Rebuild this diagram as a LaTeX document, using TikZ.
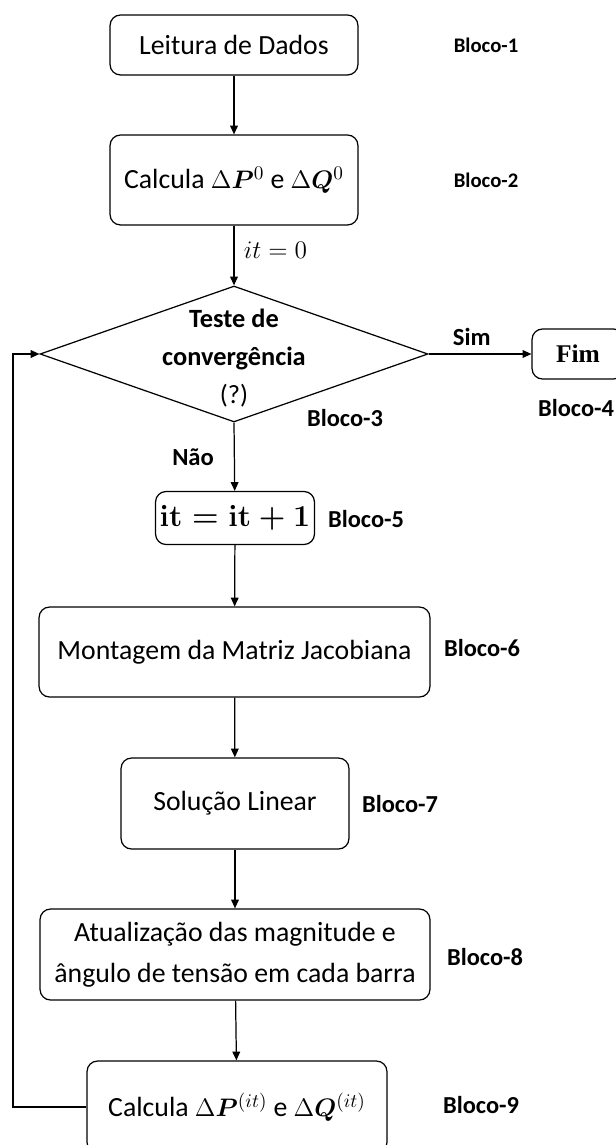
\documentclass[tikz,border=0pt]{standalone}
\usepackage{amsmath,bm}
\usepackage{fontspec}
\setmainfont{Carlito}
\newfontfamily\serifbf{Liberation Serif}
\usetikzlibrary{arrows.meta,shapes.geometric,positioning}

\begin{document}
\begin{tikzpicture}[
    x=0.02cm, y=-0.02cm,
    box/.style={draw, rounded corners=6pt, line width=0.7pt, inner sep=0pt, align=center, font=\fontsize{15.8}{23.2}\selectfont},
    decisao/.style={draw, diamond, line width=0.7pt, inner sep=0pt, minimum width=7.76cm, minimum height=2.72cm},
    bloco/.style={font=\bfseries\fontsize{13.9}{16}\selectfont},
    rot/.style={font=\bfseries\fontsize{14}{16}\selectfont},
    arr/.style={-{Triangle[length=5pt,width=4.4pt]}, line width=0.7pt}
]
\useasboundingbox (0,0) rectangle (615,1145);

\node[box, minimum width=4.96cm, minimum height=1.2cm] (leitura) at (234,45) {Leitura de Dados};
\node[box, minimum width=4.96cm, minimum height=1.8cm] (calc0) at (234,180) {Calcula $\Delta\bm{P}^{0}$ e $\Delta\bm{Q}^{0}$};
\node[decisao] (teste) at (234,354) {};
\node[align=center, font=\fontsize{15}{21.8}\selectfont] (testetxt) at (234,358) {\textbf{Teste de}\\\textbf{convergência}\\(?)};
\node[box, minimum width=1.84cm, minimum height=1cm, font=\serifbf\bfseries\fontsize{14.5}{16}\selectfont] (fim) at (578,354) {Fim};
\node[box, minimum width=3.18cm, minimum height=1.06cm, font=\boldmath\fontsize{16}{18}\selectfont] (incr) at (235,518) {$\mathbf{it}=\mathbf{it}+\mathbf{1}$};
\node[box, minimum width=7.82cm, minimum height=1.8cm] (jacob) at (234.5,652) {Montagem da Matriz Jacobiana};
\node[box, minimum width=4.56cm, minimum height=1.82cm] (solucao) at (235,803.5) {Solução Linear};
\node[box, minimum width=7.8cm, minimum height=1.82cm] (atualiza) at (235,954.5) {Atualização das magnitude e\\ângulo de tensão em cada barra};
\node[box, minimum width=6cm, minimum height=1.84cm] (calcit) at (237,1107) {Calcula $\Delta\bm{P}^{(it)}$ e $\Delta\bm{Q}^{(it)}$};

\node[bloco, font=\bfseries\fontsize{11.8}{14}\selectfont] (b1) at (486,45) {Bloco-1};
\node[bloco, font=\bfseries\fontsize{11.8}{14}\selectfont] (b2) at (486,180) {Bloco-2};
\node[bloco] (b3) at (345,418) {Bloco-3};
\node[bloco] (b4) at (576,408) {Bloco-4};
\node[bloco] (b5) at (366,519) {Bloco-5};
\node[bloco] (b6) at (482,648) {Bloco-6};
\node[bloco] (b7) at (400,804) {Bloco-7};
\node[bloco] (b8) at (485,957) {Bloco-8};
\node[bloco] (b9) at (481,1105) {Bloco-9};

\coordinate (retorno) at (13,1107);

\draw[arr] (leitura) -- (calc0);
\draw[arr] (calc0) -- node[pos=0.41, right=2pt, font=\fontsize{15}{18}\selectfont] {$it=0$} (teste);
\draw[arr] (teste.east) -- node[pos=0.42, above=1.2pt, rot] {Sim} (fim);
\draw[arr] (teste.south) -- node[pos=0.51, left=8pt, rot] {Não} (incr);
\draw[arr] (incr) -- (jacob);
\draw[arr] (jacob) -- (solucao);
\draw[arr] (solucao) -- (atualiza);
\draw[arr] (atualiza) -- (calcit);
\draw[arr] (calcit.west) -- (retorno) |- (teste.west);
\end{tikzpicture}
\end{document}
